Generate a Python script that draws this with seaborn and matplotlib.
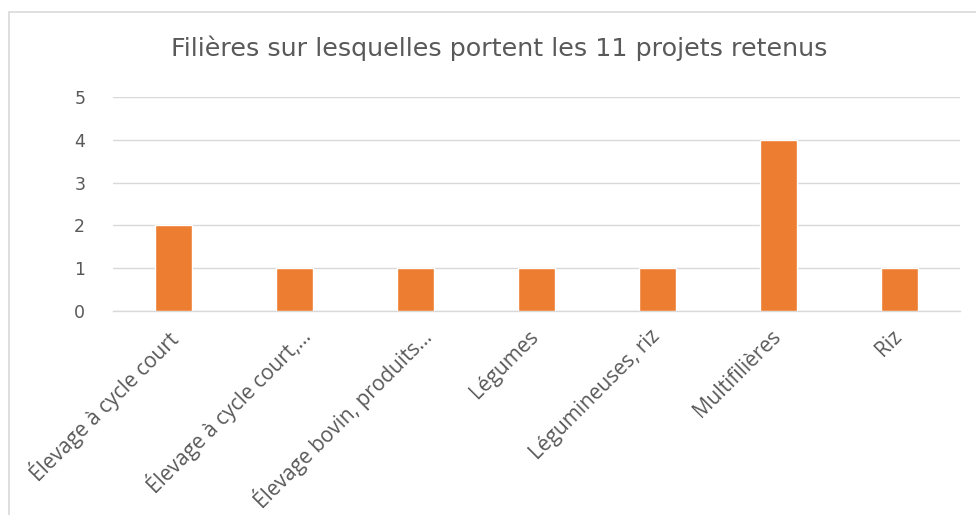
import matplotlib
matplotlib.use("Agg")
import matplotlib.pyplot as plt
import matplotlib.transforms as mtrans
import seaborn as sns
import pandas as pd
from matplotlib.patches import Rectangle

categories = ["Élevage à cycle court", "Élevage à cycle court,…", "Élevage bovin, produits…",
              "Légumes", "Légumineuses, riz", "Multifilières", "Riz"]
values = [2, 1, 1, 1, 1, 4, 1]
title = "Filières sur lesquelles portent les 11 projets retenus"

sns.set_theme(style="white")
plt.rcParams['font.family'] = ['DejaVu Sans']

df = pd.DataFrame({"cat": categories, "val": values})

fig = plt.figure(figsize=(9.76, 5.15), dpi=100)
ax = fig.add_axes([113/976, 1-311/515, (960-113)/976, (311-97)/515])
sns.barplot(data=df, x="cat", y="val", color="#ED7D31", width=0.31, saturation=1, ax=ax, zorder=3)

ax.set_ylim(0, 5)
ax.set_xlim(-0.5, 6.5)
ax.set_yticks(range(0, 6))
ax.yaxis.grid(True, color="#D9D9D9", linewidth=1, zorder=0)
ax.set_xlabel("")
ax.set_ylabel("")
for s in ["top", "right", "left"]:
    ax.spines[s].set_visible(False)
ax.spines["bottom"].set_color("#D9D9D9")
ax.spines["bottom"].set_linewidth(1)
ax.tick_params(axis="both", length=0, colors="#595959")
ax.tick_params(axis="y", labelsize=12.5, pad=20)
for lab in ax.get_yticklabels():
    lab.set_color("#595959")
ax.set_xticks(range(len(categories)))
ax.set_xticklabels(categories, rotation=45, ha="right", va="top", rotation_mode="anchor",
                   fontsize=15, family=["Open Sans", "DejaVu Sans"], color="#595959")
ax.tick_params(axis="x", pad=11)
for lab in ax.get_xticklabels():
    if lab.get_text().endswith("…"):
        dx, dy = 3, 3
    else:
        dx, dy = -8, 0
    offset = mtrans.ScaledTranslation(dx/100, dy/100, fig.dpi_scale_trans)
    lab.set_transform(lab.get_transform() + offset)

fig.text(499/976, 1-48/515, title, ha="center", va="center", fontsize=18.3, color="#595959")

fig.patches.append(Rectangle((9/976, -0.1), 1.2, 1.1 - 12/515, transform=fig.transFigure,
                             fill=False, edgecolor="#D9D9D9", linewidth=1.2))

fig.savefig("out.png", dpi=100)
